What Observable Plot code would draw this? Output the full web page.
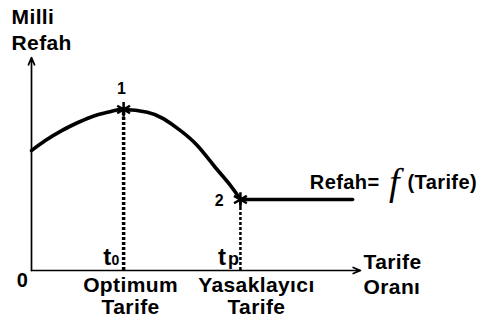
<!DOCTYPE html>
<html>
<head>
<meta charset="utf-8">
<script src="https://cdn.jsdelivr.net/npm/d3@7"></script>
<script src="https://cdn.jsdelivr.net/npm/@observablehq/plot@0.6"></script>
<style>
  html, body { margin: 0; padding: 0; background: #fff; }
  svg { font-family: "Liberation Sans", Arial, sans-serif; font-weight: bold; }
  svg text { letter-spacing: 0.4px; }
</style>
</head>
<body>
<div id="chart"></div>
<script>
// Tariff rate (0-100) and national welfare (0-100)
const curveTariff  = [0, 4.2, 9.2, 14.3, 19.4, 24.4, 28.0, 35.2, 40.2, 45.3, 50.4, 55.4, 60.5, 63.5];
const curveWelfare = [56.3, 61.0, 65.7, 69.6, 72.8, 74.8, 75.6, 74.3, 71.2, 65.7, 58.7, 49.3, 39.9, 33.3];
const flatTariff   = [63.5, 97.6];
const flatWelfare  = [33.3, 33.3];
const pointLabels  = ["1", "2"];
const pointTariff  = [28.0, 63.5];
const pointWelfare = [75.6, 33.3];

const curve = curveTariff.map((x, i) => ({x, y: curveWelfare[i]}));
const flat = flatTariff.map((x, i) => ({x, y: flatWelfare[i]}));
const points = pointLabels.map((label, i) => ({label, x: pointTariff[i], y: pointWelfare[i]}));

const fs = 21;
const chart = Plot.plot({
  width: 479,
  height: 320,
  marginLeft: 31,
  marginRight: 119,
  marginTop: 57,
  marginBottom: 50,
  x: {domain: [0, 100], axis: null},
  y: {domain: [0, 100], axis: null},
  style: {background: "#fff", overflow: "visible"},
  marks: [
    // axes
    Plot.arrow([{x1: 0, y1: 0, x2: 0, y2: 100}], {x1: "x1", y1: "y1", x2: "x2", y2: "y2", stroke: "black", strokeWidth: 1.7, headLength: 7, headAngle: 45}),
    Plot.arrow([{x1: 0, y1: 0, x2: 100, y2: 0}], {x1: "x1", y1: "y1", x2: "x2", y2: "y2", stroke: "black", strokeWidth: 1.7, headLength: 7, headAngle: 45}),
    // dashed drop lines
    Plot.ruleX([points[0]], {x: "x", y1: 0, y2: "y", stroke: "black", strokeWidth: 3.5, strokeDasharray: "3,2"}),
    Plot.ruleX([points[1]], {x: "x", y1: 0, y2: "y", stroke: "black", strokeWidth: 2.5, strokeDasharray: "3,2"}),
    // welfare curve
    Plot.line(curve, {x: "x", y: "y", curve: "natural", stroke: "black", strokeWidth: 3.6}),
    Plot.line(flat, {x: "x", y: "y", stroke: "black", strokeWidth: 3.6}),
    Plot.dot(points, {x: "x", y: "y", symbol: "asterisk", r: 7, stroke: "black", strokeWidth: 2.5}),
    // point labels
    Plot.text([points[0]], {x: "x", y: "y", text: "label", dx: -2, dy: -21, fontSize: 16, fontWeight: "bold", fill: "black"}),
    Plot.text([points[1]], {x: "x", y: "y", text: "label", dx: -21, dy: 1, fontSize: 16, fontWeight: "bold", fill: "black"}),
    // t0 and tp
    Plot.text([points[0]], {x: "x", y: 0, text: () => "t", textAnchor: "end", dx: -12, dy: -13, fontSize: 24, fontWeight: "bold", fill: "black"}),
    Plot.text([points[0]], {x: "x", y: 0, text: () => "0", textAnchor: "end", dx: -4, dy: -10, fontSize: 14, fontWeight: "bold", fill: "black"}),
    Plot.text([points[1]], {x: "x", y: 0, text: () => "t", textAnchor: "end", dx: -14, dy: -13, fontSize: 24, fontWeight: "bold", fill: "black"}),
    Plot.text([points[1]], {x: "x", y: 0, text: () => "p", textAnchor: "end", dx: -1, dy: -11, fontSize: 18, fontWeight: "bold", fill: "black"}),
    // origin
    Plot.text(["0"], {x: 0, y: 0, text: d => d, dx: -9, dy: 10, fontSize: 20, fontWeight: "bold", fill: "black"}),
    // x labels
    Plot.text(["Optimum\nTarife"], {x: points[0].x, y: 0, text: d => d, lineAnchor: "top", lineHeight: 1.05, dx: 7, dy: 6, fontSize: fs, fontWeight: "bold", fill: "black"}),
    Plot.text(["Yasaklayıcı\nTarife"], {x: points[1].x, y: 0, text: d => d, lineAnchor: "top", lineHeight: 1.05, dx: 16, dy: 6, fontSize: fs, fontWeight: "bold", fill: "black"}),
    Plot.text(["Tarife\nOranı"], {x: 100, y: 0, text: d => d, textAnchor: "start", lineAnchor: "bottom", lineHeight: 1.15, dx: 3, dy: 23, fontSize: fs, fontWeight: "bold", fill: "black"}),
    Plot.text(["Milli\nRefah"], {x: 0, y: 100, text: d => d, textAnchor: "start", lineAnchor: "bottom", lineHeight: 1.2, dx: -20, dy: -8, fontSize: fs, fontWeight: "bold", fill: "black"}),
    // function label
    Plot.text(["Refah="], {x: 100, y: flatWelfare[0], text: d => d, textAnchor: "end", dx: 19, dy: -17, fontSize: 20, fontWeight: "bold", fill: "black"}),
    Plot.text(["f"], {x: 100, y: flatWelfare[0], text: d => d, textAnchor: "middle", dx: 34, dy: -17, fontSize: 38, fontStyle: "italic", fontWeight: "normal", fontFamily: "Liberation Serif", fill: "black"}),
    Plot.text(["(Tarife)"], {x: 100, y: flatWelfare[0], text: d => d, textAnchor: "start", dx: 47, dy: -17, fontSize: 20, fontWeight: "bold", fill: "black"})
  ]
});
document.getElementById("chart").append(chart);
</script>
</body>
</html>
